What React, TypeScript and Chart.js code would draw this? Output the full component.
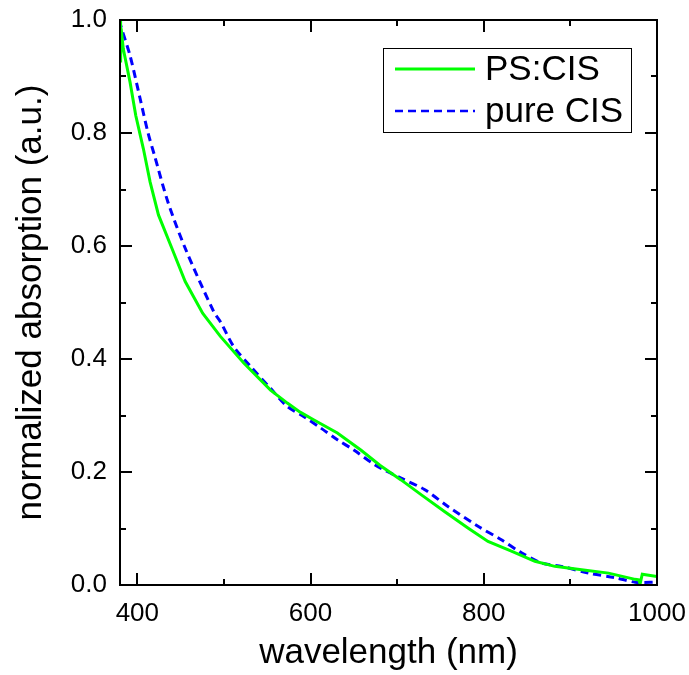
import React, { useEffect, useRef } from "react";
import { Chart, registerables } from "chart.js";

Chart.register(...registerables);

// PS:CIS (green, solid)
const psWavelength = [380, 380.7, 381.3, 383.8, 391.6, 398.2, 407, 414.8, 424.4, 439.9, 455.3, 475.4, 495.9, 522.9, 542.2, 553.8, 573.2, 588, 604, 631, 658, 680, 704.5, 727.6, 754.6, 781.7, 804.9, 831.9, 859, 882, 913, 944, 974.8, 979, 980.5, 983, 1000];
const psAbsorption = [1.0, 0.925, 0.985, 0.949, 0.89, 0.831, 0.772, 0.713, 0.655, 0.596, 0.537, 0.481, 0.44, 0.393, 0.363, 0.345, 0.322, 0.306, 0.292, 0.269, 0.239, 0.212, 0.186, 0.16, 0.13, 0.101, 0.077, 0.06, 0.042, 0.033, 0.027, 0.021, 0.01, 0.009, 0.002, 0.019, 0.015];

// pure CIS (blue, dashed)
const pureWavelength = [380, 380.9, 391.6, 403.2, 412.4, 419.7, 435.3, 455.3, 488.1, 495.9, 511.3, 530.6, 553.8, 573.2, 592.4, 611.7, 631, 650, 675, 704.5, 731.5, 758.6, 793.3, 820.3, 843.5, 866.7, 889.9, 920.8, 951.6, 974.8, 1000];
const pureAbsorption = [1.0, 0.99, 0.937, 0.861, 0.8, 0.761, 0.678, 0.596, 0.484, 0.466, 0.422, 0.387, 0.348, 0.316, 0.298, 0.278, 0.257, 0.239, 0.212, 0.189, 0.169, 0.139, 0.104, 0.08, 0.057, 0.039, 0.033, 0.021, 0.013, 0.005, 0.005];

const seriesNames = ["PS:CIS", "pure CIS"];
const xMajorTicks = [400, 600, 800, 1000];
const xMinorTicks = [500, 700, 900];
const yMajorTicks = [0, 0.2, 0.4, 0.6, 0.8, 1.0];
const yMinorTicks = [0.1, 0.3, 0.5, 0.7, 0.9];
const xTitle = "wavelength (nm)";
const yTitle = "normalized absorption (a.u.)";

const FONT = "'Liberation Sans', Arial, sans-serif";

const framePlugin = {
  id: "frame",
  afterDraw(chart: any) {
    const { ctx, chartArea: a, scales } = chart;
    const xs = scales.x;
    const ys = scales.y;
    ctx.save();
    ctx.strokeStyle = "#000";
    ctx.lineWidth = 2;
    ctx.strokeRect(a.left, a.top, a.right - a.left, a.bottom - a.top);
    ctx.beginPath();
    const xt = (v: number, len: number) => {
      const p = Math.round(xs.getPixelForValue(v));
      ctx.moveTo(p, a.bottom);
      ctx.lineTo(p, a.bottom - len);
      ctx.moveTo(p, a.top);
      ctx.lineTo(p, a.top + len);
    };
    const yt = (v: number, len: number) => {
      const p = Math.round(ys.getPixelForValue(v));
      ctx.moveTo(a.left, p);
      ctx.lineTo(a.left + len, p);
      ctx.moveTo(a.right, p);
      ctx.lineTo(a.right - len, p);
    };
    xMajorTicks.forEach((v) => xt(v, 12));
    xMinorTicks.forEach((v) => xt(v, 6));
    yMajorTicks.forEach((v) => yt(v, 12));
    yMinorTicks.forEach((v) => yt(v, 6));
    ctx.stroke();

    // legend
    const lx = a.right - 274;
    const ly = a.top + 28;
    const lw = 248;
    const lh = 84;
    ctx.fillStyle = "#fff";
    ctx.fillRect(lx, ly, lw, lh);
    ctx.lineWidth = 1;
    ctx.strokeStyle = "#000";
    ctx.strokeRect(lx + 0.5, ly + 0.5, lw, lh);
    const dsets = chart.data.datasets;
    const rows = [ly + 21, ly + 63];
    dsets.forEach((ds: any, i: number) => {
      ctx.beginPath();
      ctx.strokeStyle = ds.borderColor;
      ctx.lineWidth = i === 0 ? 3 : 2.5;
      ctx.setLineDash(ds.borderDash || []);
      ctx.moveTo(lx + 12, rows[i]);
      ctx.lineTo(lx + 92, rows[i]);
      ctx.stroke();
      ctx.setLineDash([]);
      ctx.fillStyle = "#000";
      ctx.font = `35px ${FONT}`;
      ctx.textBaseline = "middle";
      ctx.textAlign = "left";
      ctx.fillText(ds.label, lx + 102, rows[i] + 1);
    });
    ctx.restore();
  },
};

export default function App() {
  const ref = useRef<HTMLCanvasElement | null>(null);
  useEffect(() => {
    if (!ref.current) return;
    const chart = new Chart(ref.current, {
      type: "scatter",
      data: {
        datasets: [
          {
            label: seriesNames[0],
            data: psWavelength.map((x, i) => ({ x, y: psAbsorption[i] })),
            showLine: true,
            borderColor: "#00ff00",
            backgroundColor: "#00ff00",
            borderWidth: 3,
            pointRadius: 0,
            tension: 0,
          },
          {
            label: seriesNames[1],
            data: pureWavelength.map((x, i) => ({ x, y: pureAbsorption[i] })),
            showLine: true,
            borderColor: "#0000ff",
            backgroundColor: "#0000ff",
            borderWidth: 3,
            borderDash: [8, 5],
            pointRadius: 0,
            tension: 0.3,
          },
        ],
      },
      options: {
        responsive: false,
        animation: false,
        layout: { padding: { top: 20, right: 32, left: 0, bottom: 0 } },
        plugins: { legend: { display: false }, tooltip: { enabled: false } },
        scales: {
          x: {
            type: "linear",
            min: 380,
            max: 1000,
            grid: { display: false, drawTicks: false },
            border: { display: false },
            afterBuildTicks: (s: any) => {
              s.ticks = xMajorTicks.map((v) => ({ value: v }));
            },
            afterFit: (s: any) => {
              s.height = 90;
              s.paddingLeft = 0;
              s.paddingRight = 0;
            },
            ticks: {
              padding: 13,
              color: "#000",
              font: { family: FONT, size: 26 },
              maxRotation: 0,
              callback: (v: any) => String(v),
            },
            title: {
              display: true,
              text: xTitle,
              color: "#000",
              font: { family: FONT, size: 35, lineHeight: 1 },
              padding: { top: 0, bottom: 4 },
            },
          },
          y: {
            type: "linear",
            min: 0,
            max: 1,
            grid: { display: false, drawTicks: false },
            border: { display: false },
            afterBuildTicks: (s: any) => {
              s.ticks = yMajorTicks.map((v) => ({ value: v }));
            },
            afterFit: (s: any) => {
              s.width = 120;
              s.paddingTop = 0;
              s.paddingBottom = 0;
            },
            ticks: {
              padding: 13,
              color: "#000",
              font: { family: FONT, size: 26 },
              callback: (v: any) => Number(v).toFixed(1),
            },
            title: {
              display: true,
              text: yTitle,
              color: "#000",
              font: { family: FONT, size: 35, lineHeight: 1 },
              padding: { top: 14, bottom: 0 },
            },
          },
        },
      },
      plugins: [framePlugin],
    });
    return () => chart.destroy();
  }, []);
  return (
    <div style={{ position: "fixed", left: 0, top: 0, width: 689, height: 675, background: "#fff" }}>
      <canvas ref={ref} width={689} height={675} />
    </div>
  );
}
